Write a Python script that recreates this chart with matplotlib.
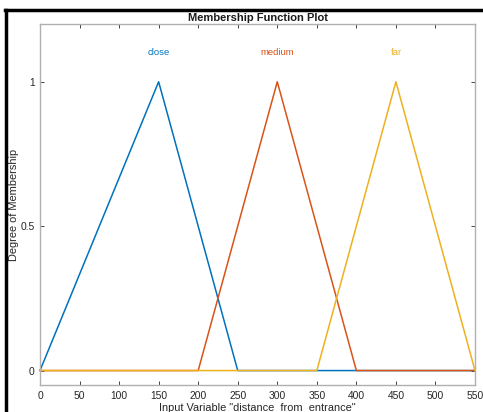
import matplotlib
matplotlib.use("Agg")
import matplotlib.pyplot as plt
from matplotlib.lines import Line2D

plt.rcParams['font.family'] = ['Liberation Sans', 'DejaVu Sans']

# membership function breakpoints (trimf)
close_x = [0, 150, 250, 550]
close_y = [0, 1, 0, 0]
medium_x = [0, 200, 300, 400, 550]
medium_y = [0, 0, 1, 0, 0]
far_x = [0, 350, 450, 550]
far_y = [0, 0, 1, 0]
names = ["close", "medium", "far"]
peaks = [150, 300, 450]
colors = ["#0072BD", "#D95319", "#EDB120"]
xticks = list(range(0, 551, 50))
yticks = [0, 0.5, 1]
yticklabels = ["0", "0.5", "1"]

W, H = 483, 412
fig = plt.figure(figsize=(W/100, H/100), dpi=100)
ax = fig.add_axes([40/W, 1-385/H, (475-40)/W, (385-24)/H])

for xs, ys, c in zip([close_x, medium_x, far_x], [close_y, medium_y, far_y], colors):
    ax.plot(xs, ys, color=c, lw=1.1, clip_on=False)
for n, p, c in zip(names, peaks, colors):
    ax.text(p, 1.1, n, color=c, ha='center', va='center', fontsize=6.8)

ax.set_xlim(0, 550)
ax.set_ylim(-0.05, 1.2)
ax.set_xticks(xticks)
ax.set_yticks(yticks)
ax.set_yticklabels(yticklabels)
ax.tick_params(direction='in', top=True, right=True, length=3, width=0.6,
               colors='#262626', labelsize=7.4, pad=4)
for s in ax.spines.values():
    s.set_color('#b0b0b0')
    s.set_linewidth(1.0)
ax.set_title("Membership Function Plot", fontsize=8, fontweight='bold', pad=2, color='#1a1a1a')
ax.set_xlabel('Input Variable "distance_from_entrance"', fontsize=7.9, color='#262626', labelpad=1.5)
ax.set_ylabel('Degree of Membership', fontsize=7.9, color='#262626', labelpad=1)

# black frame (screenshot border)
fig.add_artist(Line2D([5.5/W, 5.5/W], [0, 1-9.5/H], color='black', lw=2.5, transform=fig.transFigure))
fig.add_artist(Line2D([4.5/W, 1], [1-9.5/H, 1-9.5/H], color='black', lw=2.5, transform=fig.transFigure))

fig.savefig("out.png", dpi=100)
